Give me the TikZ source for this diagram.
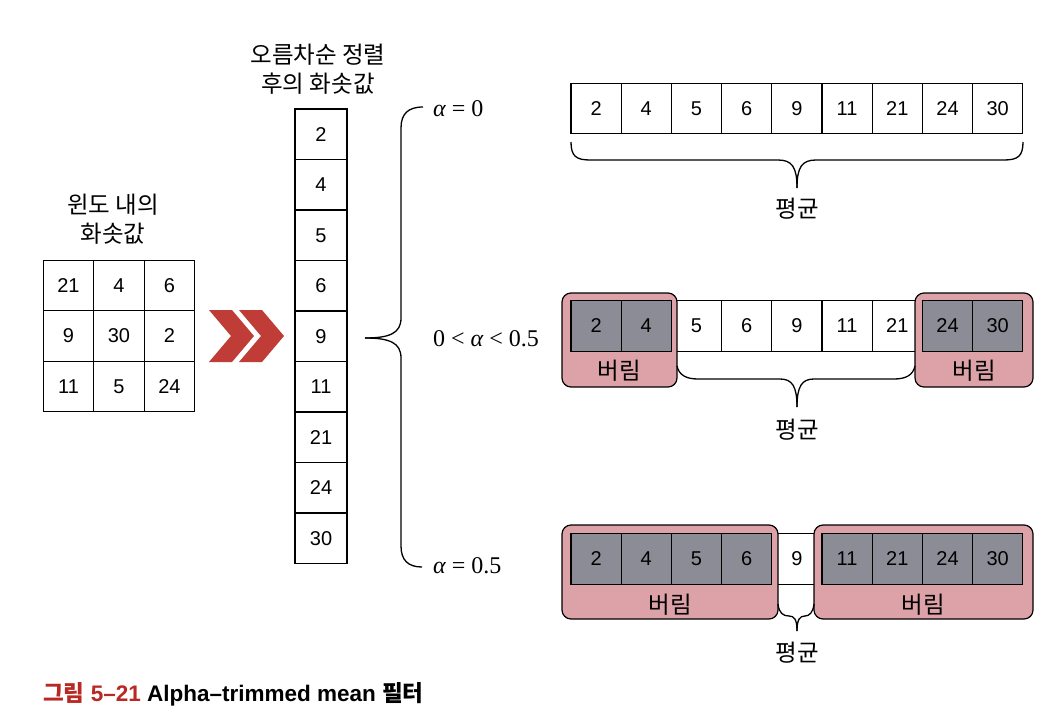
\documentclass[tikz,border=0pt]{standalone}
\usepackage{fontspec}
\setmainfont{Liberation Sans}
\newfontfamily\kr{Noto Sans CJK KR}
\newfontfamily\tms{Liberation Serif}
\definecolor{grayc}{RGB}{140,140,150}
\definecolor{pinkc}{RGB}{220,162,167}
\definecolor{chevc}{RGB}{192,60,55}
\definecolor{capred}{RGB}{185,40,35}
\tikzset{
 cell/.style={draw=black, line width=1.1pt, minimum width=50.2pt, minimum height=50.5pt, inner sep=0pt, font=\fontsize{20}{20}\selectfont, fill=white},
 gcell/.style={cell, fill=grayc},
 sqcell/.style={cell, minimum width=50.5pt},
 pinkbox/.style={draw=black, line width=1.2pt, fill=pinkc, rounded corners=9pt},
 kor/.style={font=\kr\fontsize{23.5}{29}\selectfont, align=center, inner sep=0pt},
 bracel/.style={draw=black, line width=1.3pt, line join=round},
 alab/.style={font=\tms\fontsize{24}{24}\selectfont, anchor=west, inner sep=0pt},
 chev/.style={fill=chevc},
}
\begin{document}
\begin{tikzpicture}[x=1pt,y=-1pt]
\useasboundingbox (0,0) rectangle (1062,712);
\fill[white] (0,0) rectangle (1062,712);

% left 3x3 window
\node[kor] (wtitle) at (113,219) {윈도 내의\\화솟값};
\foreach \v [count=\k from 0] in {21,4,6,9,30,2,11,5,24} {
  \pgfmathtruncatemacro\r{int(\k/3)}
  \pgfmathtruncatemacro\c{mod(\k,3)}
  \node[sqcell] (g\k) at ({68.5+50.5*\c},{285.5+50.5*\r}) {\v};
}

% chevrons
\fill[chev] (209,310) -- (232,310) -- (254,336) -- (232,362) -- (209,362) -- (231,336) -- cycle;
\fill[chev] (239,310) -- (262,310) -- (284,336) -- (262,362) -- (239,362) -- (261,336) -- cycle;

% sorted column
\node[kor] (stitle) at (318,69) {오름차순 정렬\\후의 화솟값};
\foreach \v [count=\k from 0] in {2,4,5,6,9,11,21,24,30}
  \node[sqcell, minimum width=52pt] (s\k) at (321,{134.25+50.5*\k}) {\v};

% big brace
\draw[bracel] (423,107) .. controls (408,107) and (401,114) .. (401,128) -- (401,318)
  .. controls (401,333) and (390,338) .. (365,338);
\draw[bracel] (365,338) .. controls (390,338) and (401,343) .. (401,358) -- (401,546)
  .. controls (401,560) and (408,567) .. (422,567);

\node[alab] (l1) at (433,109) {{\itshape α} = 0};
\node[alab] (l2) at (433,339) {0 < {\itshape α} < 0.5};
\node[alab] (l3) at (433,566) {{\itshape α} = 0.5};

% top row
\foreach \v [count=\k from 0] in {2,4,5,6,9,11,21,24,30}
  \node[cell] (a\k) at ({596.1+50.2*\k},108.5) {\v};
\draw[bracel] (571,142) .. controls (571,156) and (576,160) .. (590,160) -- (778,160)
  .. controls (792,160) and (797,167) .. (797,188);
\draw[bracel] (1023,142) .. controls (1023,156) and (1018,160) .. (1004,160) -- (816,160)
  .. controls (802,160) and (797,167) .. (797,188);
\node[kor] (m1) at (797,209) {평균};

% middle row
\foreach \v [count=\k from 2] in {5,6,9,11,21}
  \node[cell] (b\k) at ({596.1+50.2*\k},326) {\v};
\draw[pinkbox] (562,293) rectangle (677,387);
\draw[pinkbox] (915,293) rectangle (1033,387);
\foreach \v/\k in {2/0,4/1,24/7,30/8}
  \node[gcell] (b\k) at ({596.1+50.2*\k},326) {\v};
\node[kor] (d1) at (619.5,371) {버림};
\node[kor] (d2) at (974,371) {버림};
\draw[bracel] (677,366) .. controls (679,375) and (686,379) .. (698,379) -- (780,379)
  .. controls (792,379) and (797,386) .. (797,407);
\draw[bracel] (915,366) .. controls (913,375) and (906,379) .. (894,379) -- (814,379)
  .. controls (802,379) and (797,386) .. (797,407);
\node[kor] (m2) at (797,430) {평균};

% bottom row
\node[cell] (c4) at ({596.1+50.2*4},559) {9};
\draw[pinkbox] (562,525) rectangle (778,619);
\draw[pinkbox] (814,525) rectangle (1033,619);
\foreach \v/\k in {2/0,4/1,5/2,6/3,11/5,21/6,24/7,30/8}
  \node[gcell] (c\k) at ({596.1+50.2*\k},559) {\v};
\node[kor] (d3) at (670,605) {버림};
\node[kor] (d4) at (923.5,605) {버림};
\draw[bracel] (778,604) .. controls (779,613) and (783,616) .. (789,616)
  .. controls (794,616) and (797,619) .. (797,631);
\draw[bracel] (814,604) .. controls (813,613) and (809,616) .. (805,616)
  .. controls (800,616) and (797,619) .. (797,631);
\node[kor] (m3) at (797,653) {평균};

% caption
\node[anchor=west, inner sep=0pt, font=\fontsize{22.5}{22.5}\selectfont\bfseries] (cap) at (43,694)
  {{\kr\color{capred}그림} {\color{capred}5–21} Alpha–trimmed mean {\kr 필터}};
\end{tikzpicture}
\end{document}
